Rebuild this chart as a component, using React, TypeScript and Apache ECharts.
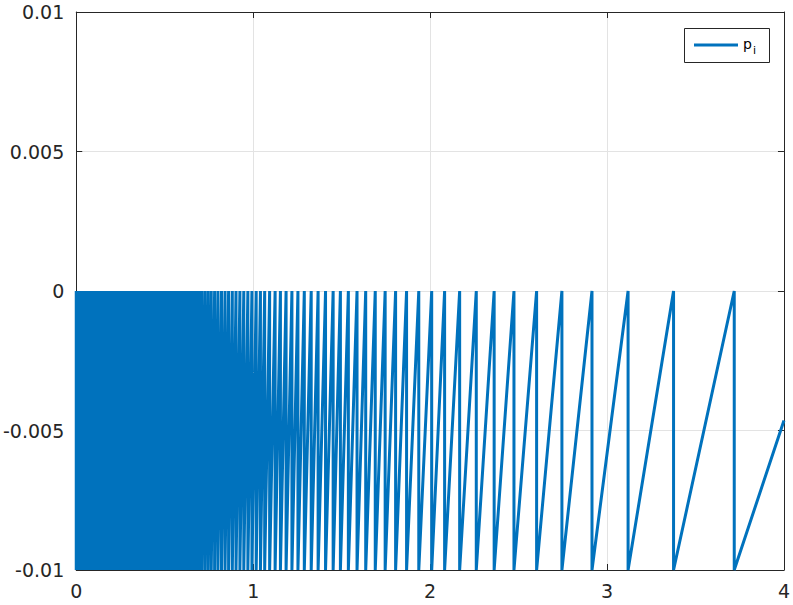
import React, { useEffect, useRef } from "react";
import * as echarts from "echarts";

// Peak positions (x where the sawtooth reaches 0 and drops to -0.01), dense region estimated
const densePeaks: number[] = [
  0, 0.009, 0.016, 0.023, 0.03, 0.037, 0.044, 0.051, 0.058, 0.065, 0.072, 0.079, 0.086, 0.094,
  0.102, 0.11, 0.118, 0.126, 0.134, 0.142, 0.15, 0.158, 0.166, 0.175, 0.184, 0.193, 0.202,
  0.211, 0.22, 0.229, 0.238, 0.247, 0.257, 0.267, 0.277, 0.287, 0.297, 0.307, 0.317, 0.328,
  0.339, 0.35, 0.361, 0.372, 0.383, 0.395, 0.407, 0.419, 0.431, 0.443, 0.456, 0.469, 0.482,
  0.495, 0.508, 0.522, 0.536, 0.55, 0.565, 0.58, 0.595, 0.61, 0.626, 0.642, 0.658, 0.675,
  0.692, 0.709, 0.727, 0.745, 0.763, 0.782, 0.801, 0.821, 0.841, 0.861, 0.882, 0.903, 0.925,
  0.947, 0.97,
];
const peaks: number[] = [
  0.993, 1.017, 1.041, 1.065, 1.093, 1.124, 1.154, 1.186, 1.219, 1.253, 1.289, 1.328, 1.367,
  1.409, 1.452, 1.493, 1.538, 1.587, 1.636, 1.69, 1.746, 1.805, 1.867, 1.936, 2.009, 2.082,
  2.167, 2.261, 2.362, 2.474, 2.602, 2.745, 2.915, 3.119, 3.376, 3.719,
];
const peakValue = 0;
const troughValue = -0.01;
const endPoint: [number, number] = [4, -0.00464];

const xTicks = [0, 1, 2, 3, 4];
const yTicks = [-0.01, -0.005, 0, 0.005, 0.01];

const LINE_COLOR = "#0072BD";
const AXIS_COLOR = "#262626";
const GRID_COLOR = "#e3e3e3";
const FONT = "DejaVu Sans";

export default function App() {
  const ref = useRef<HTMLDivElement>(null);
  useEffect(() => {
    if (!ref.current) return;
    const chart = echarts.init(ref.current, undefined, { renderer: "svg" });
    const data: [number, number][] = [];
    [...densePeaks, ...peaks].forEach((p) => {
      data.push([p, peakValue]);
      data.push([p, troughValue]);
    });
    data.push(endPoint);

    const fmt = (v: number) => String(parseFloat(v.toFixed(4)));
    const labelStyle = { color: AXIS_COLOR, fontFamily: FONT, fontSize: 19 };
    const common = {
      type: "value" as const,
      axisLine: { show: true, onZero: false, lineStyle: { color: AXIS_COLOR, width: 1 } },
      axisTick: { show: true, inside: true, length: 6, lineStyle: { color: AXIS_COLOR } },
    };

    chart.setOption({
      animation: false,
      backgroundColor: "#ffffff",
      grid: { left: 75, right: 7, top: 12, bottom: 35 },
      xAxis: [
        {
          ...common,
          min: xTicks[0],
          max: xTicks[xTicks.length - 1],
          interval: 1,
          position: "bottom",
          axisLabel: { ...labelStyle, margin: 11, formatter: fmt },
          splitLine: { show: true, lineStyle: { color: GRID_COLOR, width: 1 } },
        },
        {
          ...common,
          min: xTicks[0],
          max: xTicks[xTicks.length - 1],
          interval: 1,
          position: "top",
          axisLabel: { show: false },
          splitLine: { show: false },
        },
      ],
      yAxis: [
        {
          ...common,
          min: yTicks[0],
          max: yTicks[yTicks.length - 1],
          interval: 0.005,
          position: "left",
          axisLabel: { ...labelStyle, margin: 12, formatter: fmt },
          splitLine: { show: true, lineStyle: { color: GRID_COLOR, width: 1 } },
        },
        {
          ...common,
          min: yTicks[0],
          max: yTicks[yTicks.length - 1],
          interval: 0.005,
          position: "right",
          axisLabel: { show: false },
          splitLine: { show: false },
        },
      ],
      series: [
        {
          type: "line",
          name: "p_i",
          data,
          showSymbol: false,
          symbol: "none",
          clip: false,
          lineStyle: { color: LINE_COLOR, width: 3, join: "miter" },
          xAxisIndex: 0,
          yAxisIndex: 0,
        },
      ],
      graphic: [
        {
          type: "rect",
          shape: { x: 684.5, y: 28.5, width: 85, height: 34 },
          style: { fill: "#ffffff", stroke: AXIS_COLOR, lineWidth: 1 },
          z: 100,
        },
        {
          type: "line",
          shape: { x1: 694, y1: 45, x2: 738, y2: 45 },
          style: { stroke: LINE_COLOR, lineWidth: 3 },
          z: 101,
        },
        {
          type: "text",
          x: 743,
          y: 44,
          style: { text: "p", fontFamily: FONT, fontSize: 14, fill: "#000000", verticalAlign: "middle" },
          z: 101,
        },
        {
          type: "text",
          x: 753,
          y: 50,
          style: { text: "i", fontFamily: FONT, fontSize: 11, fill: "#000000", verticalAlign: "middle" },
          z: 101,
        },
      ],
    });
    return () => chart.dispose();
  }, []);
  return (
    <div
      ref={ref}
      style={{ position: "fixed", left: 0, top: 0, width: 793, height: 605, background: "#fff" }}
    />
  );
}
